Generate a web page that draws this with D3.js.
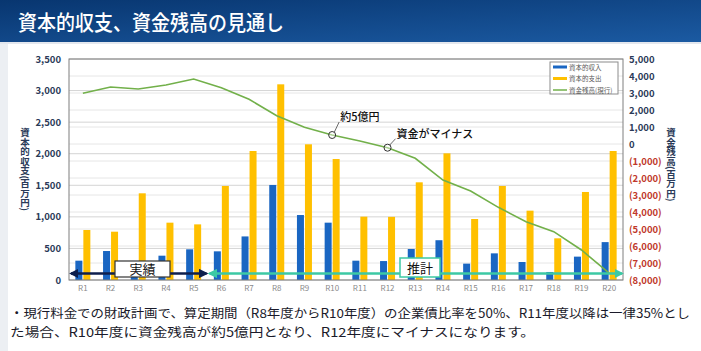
<!DOCTYPE html>
<html>
<head>
<meta charset="utf-8">
<script src="https://cdn.jsdelivr.net/npm/d3@7"></script>
<style>
  body { margin: 0; background: #fff; }
  text { font-family: "Noto Sans CJK JP", "Noto Sans", sans-serif; }
</style>
</head>
<body>
<svg id="chart" width="701" height="351"></svg>
<script>
// categories (fiscal years)
var years = ["R1","R2","R3","R4","R5","R6","R7","R8","R9","R10",
             "R11","R12","R13","R14","R15","R16","R17","R18","R19","R20"];
// 資本的収入 (百万円)
var income = [306,459,200,385,486,454,690,1505,1029,908,
              306,300,491,630,259,422,285,127,370,600];
// 資本的支出 (百万円)
var expense = [792,765,1373,908,881,1489,2043,3099,2149,1916,
               1003,1000,1547,2006,966,1489,1098,660,1394,2043];
// 資金残高(現行) (百万円)
var balance = [2980,3350,3235,3470,3824,3314,2627,1667,980,529,
               180,-218,-841,-2118,-2765,-3725,-4569,-5157,-6235,-7600];

var leftTicks = [0,500,1000,1500,2000,2500,3000,3500];
var rightTicks = [-8000,-7000,-6000,-5000,-4000,-3000,-2000,-1000,0,1000,2000,3000,4000,5000];
var seriesNames = ["資本的収入","資本的支出","資金残高(現行)"];
var footLines = ["・現行料金での財政計画で、算定期間（R8年度からR10年度）の企業債比率を50%、R11年度以降は一律35%とし",
                 "た場合、R10年度に資金残高が約5億円となり、R12年度にマイナスになります。"];

var svg = d3.select("#chart");

// page background + title bar
var defs = svg.append("defs");
var grad = defs.append("linearGradient").attr("id","titlegrad")
    .attr("x1","0%").attr("x2","100%").attr("y1","0%").attr("y2","100%");
grad.append("stop").attr("offset","0%").attr("stop-color","#083670");
grad.append("stop").attr("offset","100%").attr("stop-color","#1b5aa2");

svg.append("rect").attr("width",701).attr("height",351).attr("fill","#ffffff");
svg.append("rect").attr("x",0).attr("y",42).attr("width",8).attr("height",309).attr("fill","#eceff3");
svg.append("rect").attr("x",0).attr("y",0).attr("width",701).attr("height",42).attr("fill","url(#titlegrad)");
svg.append("rect").attr("x",0).attr("y",42).attr("width",701).attr("height",2).attr("fill","#e3e7ee");

svg.append("text")
    .attr("x",18).attr("y",30)
    .attr("fill","#fff")
    .style("font-size","21px")
    .style("font-weight","500")
    .attr("textLength",266).attr("lengthAdjust","spacingAndGlyphs")
    .text("資本的収支、資金残高の見通し");

// scales
var x = d3.scaleBand().domain(years).range([69,623]);
var yL = d3.scaleLinear().domain([0,3500]).range([280,59]);
var yR = d3.scaleLinear().domain([-8000,5000]).range([280,59]);
var cx = function(i){ return x(years[i]) + x.bandwidth()/2; };

var plot = svg.append("g");

// gridlines (both axes)
plot.selectAll(".gridR").data(rightTicks).enter().append("line")
    .attr("x1",69).attr("x2",623)
    .attr("y1",function(d){ return yR(d); }).attr("y2",function(d){ return yR(d); })
    .attr("stroke","#e6e6e6").attr("stroke-width",1);
plot.selectAll(".gridL").data(leftTicks).enter().append("line")
    .attr("x1",69).attr("x2",623)
    .attr("y1",function(d){ return yL(d); }).attr("y2",function(d){ return yL(d); })
    .attr("stroke","#d4d4d4").attr("stroke-width",1);

// axes
var leftAxis = svg.append("g").attr("transform","translate(69,0)")
    .call(d3.axisLeft(yL).tickValues(leftTicks).tickSize(0).tickPadding(8)
        .tickFormat(d3.format(",")));
leftAxis.select(".domain").remove();
leftAxis.selectAll("text")
    .attr("fill","#2a3a58").style("font-size","9.5px").style("font-weight","bold");

var rightAxis = svg.append("g").attr("transform","translate(623,0)")
    .call(d3.axisRight(yR).tickValues(rightTicks).tickSize(0).tickPadding(6)
        .tickFormat(function(d){ return d < 0 ? "(" + d3.format(",")(-d) + ")" : d3.format(",")(d); }));
rightAxis.select(".domain").remove();
rightAxis.selectAll("text")
    .attr("fill",function(d){ return d < 0 ? "#c0392b" : "#2a3a58"; })
    .style("font-size","9.5px").style("font-weight","bold");

var xAxis = svg.append("g").attr("transform","translate(0,280)")
    .call(d3.axisBottom(x).tickSize(0).tickPadding(5));
xAxis.select(".domain").remove();
xAxis.selectAll("text").attr("fill","#8a8a8a").style("font-size","8px");

// bars
plot.selectAll(".inc").data(income).enter().append("rect")
    .attr("x",function(d,i){ return cx(i) - 7.5; })
    .attr("y",function(d){ return yL(d); })
    .attr("width",7)
    .attr("height",function(d){ return yL(0) - yL(d); })
    .attr("fill","#1a66c2");
plot.selectAll(".exp").data(expense).enter().append("rect")
    .attr("x",function(d,i){ return cx(i) + 0.5; })
    .attr("y",function(d){ return yL(d); })
    .attr("width",7)
    .attr("height",function(d){ return yL(0) - yL(d); })
    .attr("fill","#ffc000");

// plot border
svg.append("rect").attr("x",69).attr("y",59).attr("width",554).attr("height",221)
    .attr("fill","none").attr("stroke","#7f7f7f").attr("stroke-width",1);

// balance line
var line = d3.line()
    .x(function(d,i){ return cx(i); })
    .y(function(d){ return yR(d); });
plot.append("path").datum(balance)
    .attr("d",line).attr("fill","none")
    .attr("stroke","#72b04a").attr("stroke-width",1.6);

// annotations
var notes = [{i:9, dx:7, dy:-13, label:"約5億円"}, {i:11, dx:8, dy:-9, label:"資金がマイナス"}];
notes.forEach(function(n){
    var px = cx(n.i), py = yR(balance[n.i]);
    svg.append("line").attr("x1",px+2).attr("y1",py-2.5)
        .attr("x2",px+n.dx).attr("y2",py+n.dy)
        .attr("stroke","#444").attr("stroke-width",0.8);
    svg.append("circle").attr("cx",px).attr("cy",py).attr("r",3.5)
        .attr("fill","#fff").attr("fill-opacity",0.4)
        .attr("stroke","#333").attr("stroke-width",1);
    svg.append("text").attr("x",px+n.dx+1).attr("y",py+n.dy-1)
        .attr("fill","#111").style("font-size","11px").style("font-weight","500")
        .text(n.label);
});

// legend
var lg = svg.append("g").attr("transform","translate(550,62)");
lg.append("rect").attr("width",68).attr("height",32)
    .attr("fill","#fff").attr("stroke","#8c8c8c").attr("stroke-width",1);
var swatch = [{c:"#1a66c2",w:3},{c:"#ffc000",w:3},{c:"#72b04a",w:1.5}];
seriesNames.forEach(function(s,i){
    var yy = 5 + i*11.5;
    lg.append("line").attr("x1",3).attr("x2",17).attr("y1",yy).attr("y2",yy)
        .attr("stroke",swatch[i].c).attr("stroke-width",swatch[i].w);
    lg.append("text").attr("x",19).attr("y",yy+2.5)
        .attr("fill","#555").style("font-size","6.5px").text(s);
});

// axis titles (vertical)
svg.append("text").attr("x",25).attr("y",128)
    .style("writing-mode","vertical-rl").style("font-size","9.5px").style("font-weight","bold")
    .attr("fill","#2a3a58").text("資本的収支(百万円)");
svg.append("text").attr("x",671).attr("y",128)
    .style("writing-mode","vertical-rl").style("font-size","9.5px").style("font-weight","bold")
    .attr("fill","#2a3a58").text("資金残高(百万円)");

// period arrows
function arrowHead(id, color){
    var m = defs.append("marker").attr("id",id)
        .attr("viewBox","0 0 10 10").attr("refX",8).attr("refY",5)
        .attr("markerWidth",3.6).attr("markerHeight",3.6)
        .attr("orient","auto-start-reverse");
    m.append("path").attr("d","M0,0L10,5L0,10Z").attr("fill",color);
}
arrowHead("navyHead","#0e1f4d");
arrowHead("tealHead","#3cc9a4");

var arrowY = 273.5;
svg.append("line").attr("x1",x("R1")+2).attr("x2",x("R6")-1)
    .attr("y1",arrowY).attr("y2",arrowY)
    .attr("stroke","#0e1f4d").attr("stroke-width",2.6)
    .attr("marker-start","url(#navyHead)").attr("marker-end","url(#navyHead)");
svg.append("line").attr("x1",x("R6")+2).attr("x2",x("R20")+x.bandwidth()-1)
    .attr("y1",arrowY).attr("y2",arrowY)
    .attr("stroke","#3cc9a4").attr("stroke-width",2.6)
    .attr("marker-start","url(#tealHead)").attr("marker-end","url(#tealHead)");

svg.append("rect").attr("x",115).attr("y",261).attr("width",55).attr("height",16)
    .attr("fill","#fff").attr("stroke","#333").attr("stroke-width",1.2);
svg.append("text").attr("x",142.5).attr("y",274).attr("text-anchor","middle")
    .attr("fill","#111").style("font-size","13px").text("実績");
svg.append("rect").attr("x",400).attr("y",258).attr("width",40).attr("height",19)
    .attr("fill","#fff").attr("stroke","#3cc9a4").attr("stroke-width",1.5);
svg.append("text").attr("x",420).attr("y",272.5).attr("text-anchor","middle")
    .attr("fill","#111").style("font-size","13px").text("推計");

// footnote (one text block, two lines)
var foot = svg.append("text")
    .attr("fill","#1a1a2a").style("font-size","12.5px");
var footWidths = [680, 525];
foot.selectAll("tspan").data(footLines).enter().append("tspan")
    .attr("x",10)
    .attr("y",function(d,i){ return 318 + i*19; })
    .attr("textLength",function(d,i){ return footWidths[i]; })
    .attr("lengthAdjust","spacingAndGlyphs")
    .text(function(d){ return d; });
</script>
</body>
</html>
